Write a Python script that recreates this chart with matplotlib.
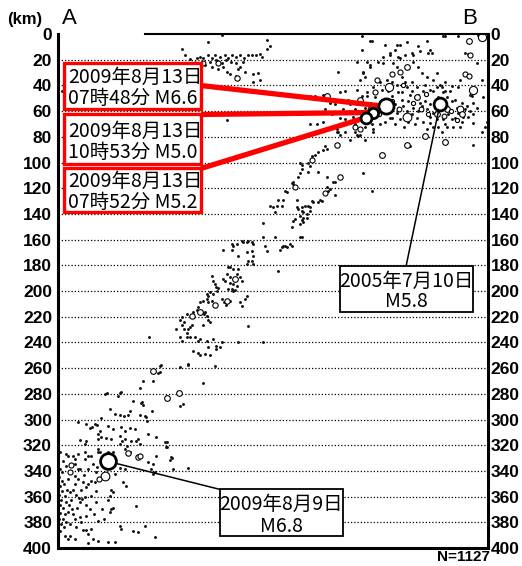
import numpy as np
import matplotlib
matplotlib.use("Agg")
import matplotlib.pyplot as plt
from matplotlib.patches import Rectangle

# Hypocentres on the A-B cross-section: (distance from A [km], depth [km])
crust_west = [
    (96.5, 11.3), (116.7, 6.6), (127.6, 0.4), (162.6, 4.3), (162.6, 11.3), (164.9, 9.7),
    (108.1, 18.3), (110.5, 17.5), (112.8, 19.0), (116.7, 16.7), (119.8, 18.3), (122.1, 16.0),
    (126.0, 17.5), (129.9, 16.7), (132.3, 18.3), (135.4, 16.0), (138.5, 17.5), (141.6, 16.7),
    (144.7, 18.3), (147.8, 16.0), (150.9, 16.7), (154.0, 16.0), (157.2, 15.2), (158.7, 17.5),
    (118.3, 21.4), (123.0, 20.6), (127.6, 22.2), (130.7, 20.6), (134.6, 21.4), (138.5, 22.2),
    (143.9, 21.4), (114.4, 24.5), (119.8, 25.3), (124.5, 27.6), (128.4, 26.0), (131.5, 29.2),
    (140.0, 27.6), (141.6, 25.3), (145.5, 29.2), (133.8, 31.5), (138.5, 32.3), (151.7, 31.5),
    (155.6, 30.0), (157.2, 35.4), (151.7, 37.7), (98.8, 16.0), (102.7, 19.8), (196.1, 48.6),
    (199.9, 48.6), (206.2, 47.8), (131.5, 67.3), (196.1, 70.4), (201.5, 70.4), (206.2, 68.1),
    (3.1, 44.7),
]

crust_east = [
    (244.3, 5.8), (254.4, 8.2), (262.2, 12.1), (270.0, 16.0), (275.4, 14.4), (281.6, 13.6),
    (289.4, 12.1), (291.0, 14.4), (301.1, 1.9), (311.2, 1.9), (236.5, 12.8), (258.3, 14.4),
    (264.5, 17.5), (252.9, 17.5), (252.9, 22.2), (249.0, 21.4), (240.4, 21.4), (242.7, 25.3),
    (260.6, 22.2), (263.7, 25.3), (266.1, 29.2), (267.6, 33.1), (272.3, 26.1), (276.2, 21.4),
    (280.1, 25.3), (283.2, 30.0), (287.1, 33.8), (294.9, 30.0), (301.1, 37.0), (306.5, 40.8),
    (237.3, 30.0), (238.8, 33.1), (235.0, 35.4), (217.8, 29.2), (219.4, 45.5), (223.3, 44.7),
    (232.6, 43.2), (236.5, 48.6), (240.4, 45.5), (245.1, 41.6), (250.5, 37.7), (256.0, 35.4),
    (259.9, 37.0), (263.7, 39.3), (270.0, 37.7), (275.4, 37.7), (279.3, 41.6), (284.0, 44.7),
    (289.4, 43.2), (294.9, 41.6), (299.5, 45.5), (259.9, 48.6), (264.5, 45.5), (267.6, 51.0),
    (273.9, 47.1), (277.7, 49.4), (281.6, 53.3), (285.5, 52.5), (289.4, 54.8), (287.1, 58.7),
    (291.8, 61.1), (306.5, 52.5), (310.4, 57.2), (311.2, 61.1), (315.1, 64.2), (314.3, 68.1),
    (308.9, 65.0), (303.4, 62.6), (301.1, 58.7), (268.4, 56.4), (271.5, 60.3), (275.4, 62.6),
    (263.7, 61.1), (266.1, 66.5), (279.3, 65.0), (284.0, 68.1), (289.4, 64.2), (289.4, 68.9),
    (291.8, 72.0), (287.1, 74.3), (299.5, 66.5), (302.6, 72.0), (307.3, 72.0), (312.8, 72.7),
    (240.4, 48.6), (236.5, 52.5), (232.6, 54.8), (233.4, 60.3), (229.5, 64.2), (227.2, 68.9),
    (236.5, 66.5), (224.8, 61.1), (221.7, 58.7), (219.4, 65.0), (215.5, 54.8), (217.1, 74.3),
    (223.3, 75.9), (245.1, 74.3), (244.3, 70.4), (322.9, 68.9), (329.9, 76.6), (332.2, 72.0),
    (266.1, 8.2), (271.5, 6.6), (280.1, 9.7), (287.1, 5.8), (263.7, 8.9), (236.5, 1.9),
    (294.9, 52.5), (298.8, 54.8), (302.6, 56.4), (248.2, 56.4), (252.1, 51.0), (252.9, 57.2),
    (249.0, 62.6), (256.7, 61.1), (259.9, 65.0), (254.4, 68.1), (250.5, 70.4), (318.2, 56.4),
    (320.5, 60.3), (322.9, 62.6), (316.6, 14.4), (319.0, 15.2), (326.8, 0.4), (326.0, 22.2),
    (329.9, 35.4), (330.7, 49.4), (333.8, 68.1), (322.9, 53.3), (326.0, 57.2), (320.5, 47.1),
    (322.1, 48.6), (312.8, 35.4), (311.2, 41.6), (291.8, 35.4), (298.8, 41.6), (232.6, 21.4),
    (242.7, 24.5), (237.3, 29.2), (276.2, 16.0), (287.9, 14.4), (258.3, 16.0), (266.1, 18.3),
    (299.5, 1.2), (242.7, 5.8), (217.8, 75.9), (219.4, 78.2), (233.4, 79.7), (273.9, 87.5),
    (322.9, 86.0), (298.8, 75.9), (295.7, 72.0), (262.2, 54.8), (272.3, 52.5), (276.2, 57.2),
    (280.1, 60.3), (283.2, 56.4), (293.3, 57.2), (295.7, 49.4), (302.6, 49.4), (305.0, 44.7),
    (308.9, 51.0), (314.3, 53.3), (316.6, 58.7), (319.0, 64.9), (306.5, 66.5), (301.1, 70.4),
    (294.9, 66.5), (277.7, 70.4), (272.3, 68.1), (269.2, 72.0), (262.2, 70.4), (258.3, 65.0),
    (267.6, 45.5), (271.5, 41.6), (275.4, 44.7), (280.1, 47.1), (285.5, 39.3), (291.8, 44.7),
    (297.2, 39.3), (301.1, 44.7), (256.7, 44.7), (252.1, 43.2), (246.6, 49.4), (242.7, 53.3),
    (238.8, 57.2), (235.0, 61.1), (231.1, 58.7), (227.2, 54.8), (225.6, 51.0), (219.4, 51.0),
    (211.6, 53.3), (207.7, 58.7), (213.2, 62.6), (223.3, 66.5), (231.1, 70.4), (238.8, 72.7),
    (235.0, 78.2), (227.2, 82.1), (238.8, 82.1),
]

slab = [
    (217.1, 75.9), (231.1, 75.9), (232.6, 78.2), (245.1, 75.9), (209.3, 89.1), (202.3, 92.2),
    (199.9, 93.8), (197.6, 95.3), (188.3, 100.0), (196.1, 103.1), (194.5, 107.0), (189.8, 105.4),
    (188.3, 107.8), (202.3, 107.0), (237.3, 107.8), (209.3, 111.6), (214.0, 114.8), (215.5, 115.5),
    (182.8, 114.8), (182.1, 116.3), (209.3, 119.4), (210.1, 122.5), (211.6, 121.0), (215.5, 124.9),
    (244.3, 122.5), (203.8, 128.8), (205.4, 130.3), (202.3, 131.1), (197.6, 130.3), (198.4, 131.1),
    (171.2, 128.8), (175.0, 129.5), (174.3, 134.2), (164.9, 134.2), (168.8, 138.9), (185.9, 135.0),
    (186.7, 136.5), (189.8, 135.0), (192.2, 134.2), (194.5, 134.2), (196.1, 135.0), (189.8, 138.1),
    (190.6, 138.9), (193.7, 140.4), (196.1, 138.1), (188.3, 142.0), (190.6, 142.8), (193.7, 143.5),
    (189.8, 145.1), (184.4, 144.3), (182.8, 145.9), (159.5, 147.4), (182.1, 149.8), (188.3, 148.2),
    (190.6, 146.6), (189.8, 158.3), (168.8, 158.3), (159.5, 158.3), (147.8, 161.4), (143.9, 162.2),
    (139.3, 163.8), (135.4, 163.8), (151.7, 163.8), (161.0, 165.3), (175.0, 165.3), (178.2, 166.1),
    (180.5, 163.8), (182.1, 165.3), (162.6, 169.2), (172.7, 167.7), (174.3, 166.1), (176.6, 165.3),
    (188.3, 158.3), (171.2, 184.8), (159.5, 239.3), (182.8, 117.1), (178.2, 123.3), (176.6, 122.5),
    (170.4, 134.2), (167.3, 135.0), (207.7, 87.5), (206.2, 89.9), (194.5, 100.0), (189.8, 101.6),
    (186.7, 110.9), (185.9, 128.8),
    (150.9, 162.2), (143.1, 161.4), (147.0, 162.2), (128.4, 167.7), (135.4, 168.4), (136.1, 165.3),
    (140.0, 173.1), (147.0, 170.0), (150.9, 169.2), (151.7, 173.1), (132.3, 181.7), (133.8, 181.7),
    (131.5, 187.1), (133.8, 189.4), (136.1, 183.2), (140.0, 183.2), (139.3, 187.1), (141.6, 189.4),
    (143.1, 192.5), (147.0, 179.3), (147.8, 177.0), (150.9, 177.0), (151.7, 179.3), (128.4, 191.0),
    (129.9, 192.5), (133.8, 194.1), (136.1, 194.9), (139.3, 196.4), (135.4, 198.8), (132.3, 198.8),
    (136.1, 200.3), (137.7, 199.6), (145.5, 206.6), (147.0, 204.2), (141.6, 208.9), (143.1, 212.0),
    (147.8, 227.6), (140.0, 239.3), (127.6, 206.6), (130.7, 210.5), (133.8, 208.1), (129.2, 208.9),
    (119.8, 188.7), (120.6, 192.5), (122.1, 194.9), (122.9, 197.2), (123.7, 200.3), (124.5, 198.0),
    (115.9, 202.7), (118.3, 201.1), (116.7, 203.5), (120.6, 202.7), (110.5, 208.9), (112.8, 208.1),
    (115.9, 206.6), (116.7, 208.9), (119.8, 208.1), (122.1, 210.5), (111.7, 216.7), (113.2, 218.2),
    (114.4, 216.7), (115.9, 219.8), (116.7, 222.2), (118.3, 224.5), (112.8, 226.8), (100.4, 218.2),
    (105.0, 216.7), (108.1, 214.4), (108.9, 212.8), (98.0, 224.5), (102.7, 228.3), (104.3, 226.8),
    (101.1, 229.9), (100.4, 232.3), (98.0, 229.9), (91.8, 229.9), (96.5, 226.8), (94.9, 222.2),
    (96.5, 220.6), (94.9, 236.1), (100.4, 236.1), (102.7, 236.1), (96.5, 239.2), (106.6, 236.1),
    (108.9, 239.2), (110.5, 237.7), (115.9, 239.2), (116.7, 243.9), (120.6, 237.7), (122.9, 243.1),
    (105.0, 247.0), (108.9, 248.6), (110.5, 250.1), (114.4, 249.4), (118.3, 250.1), (122.9, 245.5),
    (126.0, 243.9), (127.6, 240.0), (122.1, 258.7), (101.1, 257.9), (112.8, 271.9), (94.9, 259.5),
    (79.4, 258.7), (73.1, 262.6), (77.8, 264.1), (70.8, 236.1), (66.1, 270.4), (38.1, 279.7),
    (36.6, 280.5), (48.2, 279.7), (46.7, 282.0), (63.8, 275.8), (58.4, 285.9), (65.4, 286.7),
    (66.1, 289.1), (73.1, 293.0), (40.5, 292.2), (44.3, 296.1), (48.2, 296.8), (51.3, 297.6),
    (54.5, 296.8), (56.0, 293.7), (63.8, 296.8), (67.7, 297.6), (94.9, 289.8), (97.3, 288.3),
    (80.1, 257.9), (79.4, 263.3), (101.1, 257.1), (73.9, 270.4), (49.0, 278.9),
]

deep = [
    (64.6, 287.4), (68.5, 298.4), (69.2, 301.5), (33.5, 299.2), (15.6, 302.3), (21.8, 303.8),
    (26.5, 306.2), (28.8, 303.8), (30.3, 304.6), (32.7, 309.3), (24.9, 306.9), (38.9, 305.4),
    (42.8, 307.7), (49.0, 306.2), (52.1, 309.3), (56.0, 306.9), (59.9, 307.7), (70.0, 311.6),
    (76.2, 313.9), (83.2, 317.8), (84.0, 321.7), (63.8, 319.4), (17.1, 316.2), (21.8, 317.0),
    (21.0, 319.4), (31.1, 311.6), (33.5, 313.9), (31.1, 315.5), (37.3, 314.7), (41.2, 315.5),
    (48.2, 313.1), (49.8, 317.0), (52.1, 315.5), (53.7, 320.9), (48.2, 319.4), (52.1, 323.3),
    (56.0, 324.9), (62.2, 315.5), (60.7, 317.0), (56.8, 317.0), (1.6, 324.9), (6.2, 327.2),
    (11.7, 328.7), (21.0, 325.6), (23.3, 328.7), (31.1, 323.3), (32.7, 325.6), (38.9, 324.9),
    (42.8, 324.9), (76.2, 328.7), (87.9, 329.5), (70.0, 333.4), (72.4, 338.8), (75.5, 341.2),
    (101.1, 338.0), (89.5, 338.8), (88.7, 330.3), (87.1, 331.8), (73.9, 334.9), (73.9, 342.7),
    (84.8, 317.8), (84.8, 321.7), (31.1, 325.6), (25.7, 328.7), (21.0, 331.1), (15.6, 327.2),
    (13.2, 331.1), (7.8, 328.7), (3.9, 332.6), (6.2, 336.5), (13.2, 334.9), (27.2, 334.9),
    (30.3, 337.3), (52.1, 338.8), (48.2, 338.0), (44.3, 342.7), (29.6, 341.2), (23.3, 338.8),
    (15.6, 338.8), (13.2, 344.3), (7.8, 346.6), (3.1, 348.2), (1.6, 352.1), (50.6, 348.9),
    (52.9, 352.1), (41.2, 354.5), (42.8, 356.8), (40.5, 359.9), (38.9, 362.3), (25.7, 348.2),
    (23.3, 350.5), (21.8, 352.9), (19.5, 348.9), (17.9, 354.5), (28.8, 348.9), (29.6, 355.9),
    (25.7, 359.9), (21.0, 360.6), (17.1, 364.5), (18.7, 362.2), (11.7, 354.5), (9.3, 356.8),
    (5.4, 359.9), (2.3, 362.3), (1.6, 366.2), (3.9, 368.5), (6.2, 364.5), (10.1, 362.3),
    (7.8, 371.6), (1.6, 372.4), (5.4, 373.9), (29.6, 364.5), (41.2, 370.0), (40.5, 371.6),
    (42.8, 368.5), (60.7, 367.6), (31.1, 379.3), (3.9, 377.7), (6.2, 380.1), (13.2, 377.7),
    (17.1, 376.2), (17.9, 380.1), (14.0, 384.0), (19.5, 386.3), (21.8, 386.3), (25.7, 385.5),
    (48.2, 383.2), (49.0, 385.5), (58.4, 387.1), (62.2, 387.8), (67.7, 383.2), (75.5, 391.7),
    (23.3, 389.4), (27.2, 393.3), (31.1, 394.8), (38.9, 395.6), (44.3, 395.6), (23.3, 396.4),
    (5.4, 391.0), (7.8, 393.3), (1.6, 387.1), (9.3, 391.0), (13.2, 393.3), (0.8, 345.1),
    (3.1, 341.2), (4.7, 350.5), (7.0, 354.5), (0.8, 358.4), (3.1, 356.0), (8.6, 366.2),
    (10.9, 370.0), (0.8, 377.7), (2.3, 381.6), (4.7, 384.0), (9.3, 381.6), (11.7, 373.9),
    (14.8, 368.5), (14.0, 358.4), (16.3, 360.7), (13.2, 350.5), (15.6, 346.6), (17.1, 338.8),
    (1.6, 338.8), (20.2, 343.5), (21.8, 366.2), (24.9, 370.0), (28.0, 373.9), (21.8, 375.4),
    (34.2, 370.0), (35.8, 377.7),
]

# events drawn as open circles: (distance, depth, magnitude)
open_events = [
    (124.5, 22.2, 3.3), (112.8, 22.2, 3.2), (139.3, 33.9, 3.4), (106.6, 23.7, 3.2),
    (257.5, 41.6, 4.3), (271.5, 64.2, 4.5), (294.9, 62.6, 3.5), (302.6, 58.7, 3.5),
    (312.8, 58.7, 3.8), (314.3, 62.6, 3.5), (279.3, 49.4, 3.5), (248.2, 35.4, 3.3),
    (259.9, 31.5, 3.3), (266.1, 29.2, 3.3), (271.5, 25.3, 3.5), (246.6, 45.5, 3.3),
    (235.0, 51.0, 3.5), (209.3, 48.6, 3.5), (252.1, 93.8, 3.5), (271.5, 86.0, 3.5),
    (285.5, 79.0, 3.5), (301.1, 84.4, 3.5), (322.9, 43.2, 4.3), (329.9, 2.7, 4.3),
    (319.8, 5.8, 3.5), (316.6, 31.5, 3.3), (320.0, 32.3, 3.3), (320.5, 16.7, 3.3),
    (231.1, 72.0, 3.3), (235.0, 74.3, 3.3),
    (282.0, 58.0, 3.2), (288.0, 62.0, 3.0), (296.0, 55.0, 3.2), (306.0, 60.0, 3.0),
    (265.0, 58.0, 3.2), (260.0, 52.0, 3.0), (276.0, 54.0, 3.0), (300.0, 64.0, 3.2),
    (310.0, 67.0, 3.0), (268.0, 40.0, 3.0), (286.0, 47.0, 3.0), (250.0, 62.0, 3.0),
    (243.0, 58.0, 3.2),
    (217.1, 86.0, 3.4), (197.6, 98.4, 3.3), (219.4, 111.6, 3.4), (184.4, 119.4, 3.3),
    (207.7, 124.1, 3.3), (137.7, 191.0, 3.5), (110.5, 216.0, 3.5), (104.3, 219.8, 3.4),
    (73.9, 262.6, 3.5), (84.8, 283.6, 3.5), (94.1, 279.7, 3.5), (131.5, 208.1, 3.4),
    (122.1, 211.2, 3.4),
    (54.5, 326.0, 3.4), (62.2, 329.0, 3.4), (10.1, 335.1, 3.3), (9.3, 341.2, 3.3),
    (63.8, 328.7, 3.3), (36.6, 344.3, 4.5), (31.9, 346.3, 3.3),
]

# labelled events
event_x = [255.2, 245.1, 239.6, 297.2, 38.9]
event_d = [56.4, 61.1, 65.0, 54.1, 332.6]
event_mag = [6.6, 5.0, 5.2, 5.8, 6.8]
event_date = ["2009年8月13日", "2009年8月13日", "2009年8月13日", "2005年7月10日", "2009年8月9日"]
event_time = ["07時48分", "10時53分", "07時52分", "", ""]

depth_ticks = list(range(0, 401, 20))
n_total = 1127

JP = ["Noto Sans CJK JP", "DejaVu Sans"]


def msize(mag):
    return 2.2 * mag - 3.6


fig = plt.figure(figsize=(5.22, 5.66), dpi=100)
ax = fig.add_axes([0.1111, 0.0318, 0.8238, 0.9081])
ax.set_xlim(0, 334.5)
ax.set_ylim(400, 0)

for d in depth_ticks[1:-1]:
    ax.axhline(d, color="black", lw=0.9, ls=(0, (1, 1.6)), zorder=1)

pts = np.array(crust_west + crust_east + slab + deep)
ax.plot(pts[:, 0], pts[:, 1], "o", ms=2.1, mfc="#111111", mec="none", ls="none", zorder=2)

for x, d, m in open_events:
    ax.plot(x, d, "o", ms=msize(m), mfc="white", mec="black", mew=0.8, zorder=3)

# label boxes: (x0, x1, d0, d1), leader start point, colour, text line depths
boxes = [
    ((4.7, 111.3, 22.2, 58.7), (111.3, 40.1), "#ff0000", (33.8, 50.2)),
    ((4.7, 111.3, 62.6, 101.5), (111.3, 62.6), "#ff0000", (75.9, 92.4)),
    ((4.7, 111.3, 104.6, 138.9), (111.3, 104.6), "#ff0000", (114.8, 131.1)),
    ((219.4, 322.9, 180.9, 216.7), (270.7, 180.9), "black", (192.6, 208.1)),
    ((126.0, 221.7, 354.4, 391.0), (126.0, 354.4), "black", (366.0, 383.2)),
]

for i, (rect, start, col, lines) in enumerate(boxes):
    x0, x1, d0, d1 = rect
    red = col != "black"
    ax.plot([start[0], event_x[i]], [start[1], event_d[i]], color=col,
            lw=3.8 if red else 1.1, solid_capstyle="butt", zorder=4)
    ax.add_patch(Rectangle((x0, d0), x1 - x0, d1 - d0, fc="white", ec=col,
                           lw=2.4 if red else 1.3, zorder=6))
    mag = f"M{event_mag[i]:.1f}"
    if red:
        ax.text(x0 + 3.0, lines[0], event_date[i], fontsize=14, family=JP,
                ha="left", va="center", zorder=7)
        ax.text(x0 + 3.0, lines[1], f"{event_time[i]} {mag}", fontsize=14, family=JP,
                ha="left", va="center", zorder=7)
    else:
        xc = (x0 + x1) / 2
        ax.text(xc, lines[0], event_date[i], fontsize=14, family=JP,
                ha="center", va="center", zorder=7)
        ax.text(xc, lines[1], mag, fontsize=14, family=JP,
                ha="center", va="center", zorder=7)

for i in range(len(event_x)):
    ax.plot(event_x[i], event_d[i], "o", ms=msize(event_mag[i]), mfc="white",
            mec="black", mew=2.0, zorder=5)

# frame: no top line over the left part of the section
for side in ("left", "right", "bottom"):
    ax.spines[side].set_linewidth(2.2)
ax.spines["top"].set_visible(False)
ax.plot([67.7, 334.5], [0, 0], color="black", lw=1.5, clip_on=False, zorder=8)

ax.set_xticks([])
ax.set_yticks(depth_ticks)
ax.set_yticklabels([str(t) for t in depth_ticks], fontsize=12.5, fontweight="bold",
                   family="Liberation Sans")
ax.tick_params(axis="y", length=0, pad=4.3)

ax2 = ax.twinx()
ax2.set_ylim(400, 0)
ax2.set_yticks(depth_ticks)
ax2.set_yticklabels([str(t) for t in depth_ticks], fontsize=12.5, fontweight="bold",
                    family="Liberation Sans")
ax2.tick_params(axis="y", length=0, pad=2)
for s in ax2.spines.values():
    s.set_visible(False)

fig.text(0.048, 0.966, "(km)", fontsize=12, fontweight="bold", family="Liberation Sans",
         ha="center", va="center")
fig.text(0.132, 0.968, "A", fontsize=16, family="Liberation Sans", ha="center", va="center")
fig.text(0.900, 0.968, "B", fontsize=16, family="Liberation Sans", ha="center", va="center")
fig.text(0.939, 0.016, f"N={n_total}", fontsize=11, fontweight="bold",
         family="Liberation Sans", ha="right", va="center")

fig.savefig("out.png", dpi=100)
